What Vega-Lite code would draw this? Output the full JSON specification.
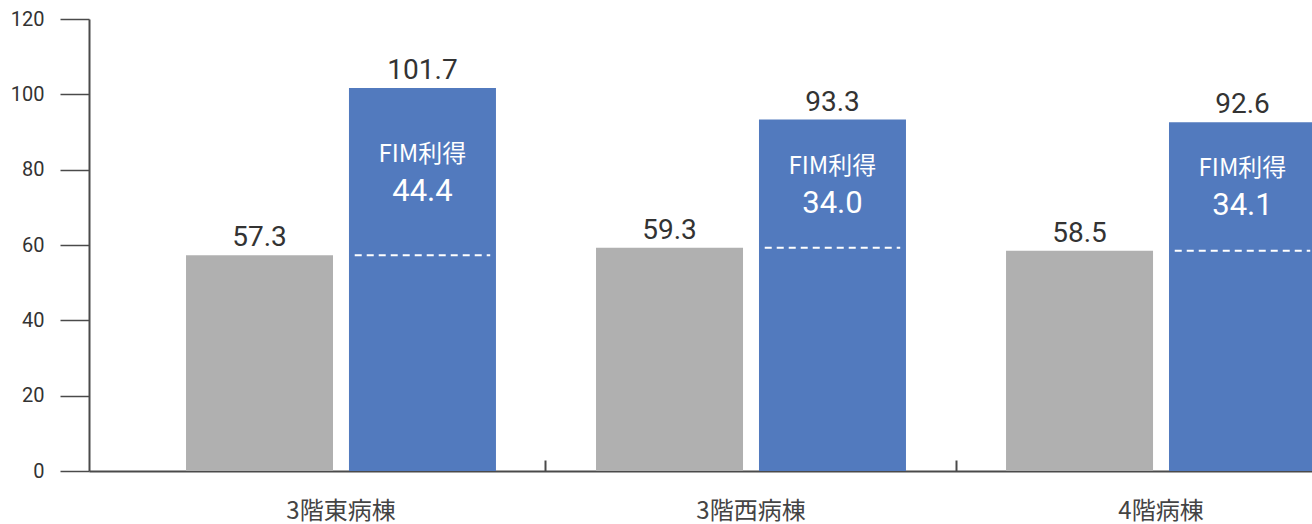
{
  "$schema": "https://vega.github.io/schema/vega-lite/v6.json",
  "width": 1223,
  "height": 452,
  "autosize": {"type": "none"},
  "padding": {"left": 89, "right": 0, "top": 19, "bottom": 53},
  "background": "white",
  "config": {
    "view": {"stroke": null},
    "axisY": {
      "labelFont": "Roboto",
      "labelFontSize": 20,
      "labelColor": "#333333",
      "tickSize": 29,
      "tickWidth": 1.5,
      "tickColor": "#4a4a4a",
      "domainColor": "#4a4a4a",
      "domainWidth": 2,
      "labelPadding": 16,
      "grid": false,
      "tickCount": 6
    },
    "axisX": {
      "labelFont": "Noto Sans CJK JP",
      "labelFontSize": 24,
      "labelColor": "#444444",
      "domainColor": "#4a4a4a",
      "domainWidth": 2,
      "tickWidth": 2,
      "tickSize": -11,
      "tickColor": "#4a4a4a",
      "labelPadding": 39,
      "labelAngle": 0,
      "grid": false
    }
  },
  "data": {
    "values": [
      {"ward": "3階東病棟", "stage": "入院時", "value": 57.3},
      {"ward": "3階東病棟", "stage": "退院時", "value": 101.7, "gain": 44.4},
      {"ward": "3階西病棟", "stage": "入院時", "value": 59.3},
      {"ward": "3階西病棟", "stage": "退院時", "value": 93.3, "gain": 34.0},
      {"ward": "4階病棟", "stage": "入院時", "value": 58.5},
      {"ward": "4階病棟", "stage": "退院時", "value": 92.6, "gain": 34.1}
    ]
  },
  "encoding": {
    "x": {
      "field": "ward",
      "type": "nominal",
      "sort": null,
      "scale": {
        "domain": ["3階東病棟", "3階西病棟", "4階病棟"],
        "range": [0, 1324],
        "paddingInner": 0,
        "paddingOuter": 0.1146
      },
      "axis": {
        "title": null,
        "bandPosition": 0,
        "tickColor": {"condition": {"test": "datum.value === '3階東病棟'", "value": "transparent"}, "value": "#4a4a4a"}
      }
    }
  },
  "layer": [
    {
      "mark": {"type": "bar"},
      "encoding": {
        "xOffset": {
          "field": "stage",
          "type": "nominal",
          "scale": {"domain": ["入院時", "退院時"], "paddingInner": 0.098, "paddingOuter": 0.307}
        },
        "y": {"field": "value", "type": "quantitative", "title": null, "scale": {"domain": [0, 120]}},
        "color": {
          "field": "stage",
          "type": "nominal",
          "scale": {"domain": ["入院時", "退院時"], "range": ["#b0b0b0", "#527abe"]},
          "legend": null
        }
      }
    },
    {
      "mark": {"type": "text", "font": "Roboto", "fontSize": 28, "color": "#333333", "baseline": "alphabetic", "dy": -9},
      "encoding": {
        "xOffset": {"field": "stage", "type": "nominal"},
        "y": {"field": "value", "type": "quantitative", "title": null},
        "text": {"field": "value", "type": "quantitative", "format": ".1f"}
      }
    },
    {
      "transform": [{"filter": "datum.stage === '入院時'"}],
      "mark": {"type": "tick", "orient": "horizontal", "thickness": 0, "size": 135.5, "filled": false, "color": "white", "strokeWidth": 2, "strokeDash": [7, 5], "opacity": 1},
      "encoding": {
        "xOffset": {"datum": "退院時", "type": "nominal"},
        "y": {"field": "value", "type": "quantitative", "title": null}
      }
    },
    {
      "transform": [{"aggregate": [{"op": "mean", "field": "value", "as": "mid"}], "groupby": ["ward"]}],
      "mark": {"type": "text", "text": "FIM利得", "font": "Noto Sans CJK JP", "fontSize": 24, "color": "white", "baseline": "alphabetic", "dy": -10},
      "encoding": {
        "xOffset": {"datum": "退院時", "type": "nominal"},
        "y": {"field": "mid", "type": "quantitative", "title": null}
      }
    },
    {
      "transform": [
        {"joinaggregate": [{"op": "mean", "field": "value", "as": "mid"}], "groupby": ["ward"]},
        {"filter": "datum.stage === '退院時'"}
      ],
      "mark": {"type": "text", "font": "Roboto", "fontSize": 31, "color": "white", "baseline": "alphabetic", "dy": 29},
      "encoding": {
        "xOffset": {"datum": "退院時", "type": "nominal"},
        "y": {"field": "mid", "type": "quantitative", "title": null},
        "text": {"field": "gain", "type": "quantitative", "format": ".1f"}
      }
    }
  ]
}
